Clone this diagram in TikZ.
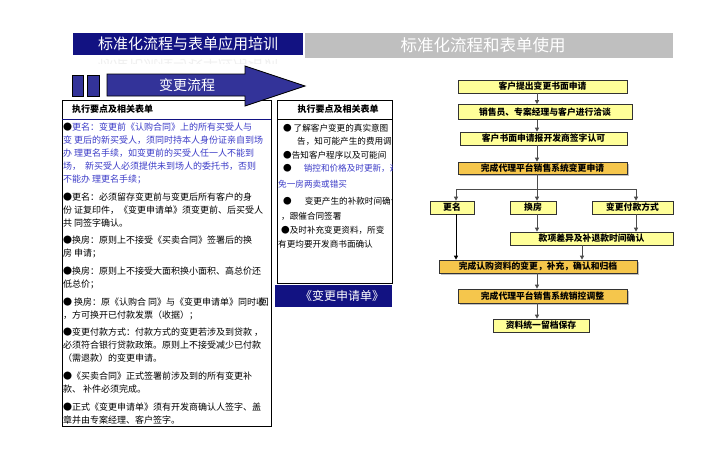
\documentclass[tikz,border=0pt]{standalone}
\usepackage{fontspec}
\setmainfont{Noto Sans CJK SC}
\usetikzlibrary{arrows.meta,shadows}

\definecolor{navy}{RGB}{18,18,130}
\definecolor{arrowblue}{RGB}{51,51,153}
\definecolor{titlegray}{RGB}{191,191,191}
\definecolor{noteblue}{RGB}{60,60,200}
\definecolor{paleyellow}{RGB}{255,255,153}
\definecolor{gold}{RGB}{245,198,76}

\begin{document}
\begin{tikzpicture}[
		x=1pt,y=-1pt,
		>={Triangle[length=4pt,width=4pt]},
		every node/.style={inner sep=0pt},
		flowbox/.style={
				draw=black!80,
				line width=0.7pt,
				fill=paleyellow,
				minimum height=13pt,
				font=\fontsize{8.8}{10}\selectfont\bfseries
			},
		keybox/.style={
				flowbox,
				fill=gold,
				drop shadow={shadow xshift=2pt,shadow yshift=-2pt,fill=black!40,opacity=0.6}
			},
		flowline/.style={draw=black!70,line width=0.8pt},
		para/.style={anchor=north west,align=left,font=\fontsize{9}{13}\selectfont},
		midpara/.style={anchor=north west,align=left,font=\fontsize{8.6}{13}\selectfont},
		headtext/.style={font=\fontsize{9}{9}\selectfont\bfseries}
	]

	\useasboundingbox (0,0) rectangle (720,450);
	\fill[white] (0,0) rectangle (720,450);

	% titles
	\fill[navy] (73,33) rectangle (303,55);
	\node[text=white,font=\fontsize{15}{15}\selectfont] (title) at (188,44)
	{标准化流程与表单应用培训};
	\begin{scope}
		\clip (73,55) rectangle (303,63);
		\node[text=black!6,font=\fontsize{15}{15}\selectfont,yscale=-1] (titlemirror) at (188,66)
		{标准化流程与表单应用培训};
	\end{scope}

	\fill[titlegray] (305,33) rectangle (673,58);
	\node[text=white,font=\fontsize{16.5}{16.5}\selectfont] (subtitle) at (483,45)
	{标准化流程和表单使用};

	% left panel
	\draw[line width=0.8pt] (62,100) rectangle (271,426);
	\node[headtext,anchor=west] (lhead) at (72,109) {执行要点及相关表单};
	\draw[navy,line width=0.6pt] (62,119) -- (271,119);

	\node[para,text=noteblue] (p1) at (63,122.5)
	{\textcolor{black}{●}更名：变更前《认购合同》上的所有买受人与\\
		变 更后的新买受人，须同时持本人身份证亲自到场\\
		办 理更名手续，如变更前的买受人任一人不能到\\
		场，\ \ 新买受人必须提供未到场人的委托书，否则\\
		不能办 理更名手续；};

	\node[para] (p2) at (63,192.2)
	{●更名：必须留存变更前与变更后所有客户的身\\
		份 证复印件，《变更申请单》须变更前、后买受人\\
		共 同签字确认。};

	\node[para] (p3) at (63,235.9)
	{●换房：原则上不接受《买卖合同》签署后的换\\
		房 申请；};

	\node[para] (p4) at (63,266.6)
	{●换房：原则上不接受大面积换小面积、高总价还\\
		低总价；};

	\node[para] (p5) at (63,297.3)
	{● 换房：原《认购合 同》与《变更申请单》同时收\kern-0.6em 回\\
		，方可换开已付款发票（收据）；};

	\node[para] (p6) at (63,328)
	{●变更付款方式：付款方式的变更若涉及到贷款 ，\\
		必须符合银行贷款政策。原则上不接受减少已付款\\
		（需退款）的变更申请。};

	\node[para] (p7) at (63,371.7)
	{●《买卖合同》正式签署前涉及到的所有变更补\\
		款、 补件必须完成。};

	\node[para] (p8) at (63,402.4)
	{●正式《变更申请单》须有开发商确认人签字、盖\\
		章并由专案经理、客户签字。};

	% middle panel
	\draw[line width=0.8pt] (277,100) rectangle (392,283);
	\node[headtext] (mhead) at (338,109) {执行要点及相关表单};
	\draw[line width=0.6pt] (277,119) -- (392,119);

	\begin{scope}
		\clip (277,100) rectangle (392,283);
		\node[midpara] (m1) at (283,123.7)
		{● 了解客户变更的真实意图\\
			\hspace*{14pt}告，知可能产生的费用调整};
		\node[midpara] (m2) at (283,150.7)
		{●告知客户程序以及可能间};
		\node[midpara] (m3) at (278,163.7)
		{\hspace*{5pt}●\hspace*{12pt}\textcolor{noteblue}{销控和价格及时更新，避}\\[3pt]
			\textcolor{noteblue}{免一房两卖或错买}};
		\node[midpara] (m4) at (281,196.7)
		{\hspace*{2pt}●\hspace*{13pt}变更产生的补款时间确认\\[2pt]
			，跟催合同签署};
		\node[midpara] (m5) at (278,225.7)
		{\hspace*{3pt}●及时补充变更资料，所变\\[1pt]
			有更均要开发商书面确认};
	\end{scope}

	\fill[navy] (275,285) rectangle (392,307);
	\node[text=white,font=\fontsize{12}{12}\selectfont] (formname) at (342,296)
	{《变更申请单》};

	% process arrow
	\filldraw[fill=arrowblue,draw=black,line width=0.8pt] (72,75) rectangle (83,96);
	\filldraw[fill=arrowblue,draw=black,line width=0.8pt] (87,75) rectangle (99,96);
	\filldraw[fill=arrowblue,draw=black,line width=0.8pt]
	(107,74) -- (245,74) -- (245,66) -- (305,86) -- (245,106) -- (245,96) -- (107,96) -- cycle;
	\node[text=white,font=\fontsize{14}{14}\selectfont] (flowname) at (187,85) {变更流程};

	% flow chart
	\node[flowbox,minimum width=169pt] (apply) at (542.5,86.5) {客户提出变更书面申请};
	\node[flowbox,minimum width=174pt,minimum height=15pt] (talk) at (545,112)
	{销售员、专案经理与客户进行洽谈};
	\node[flowbox,minimum width=167pt] (sign) at (543.5,138.5) {客户书面申请报开发商签字认可};
	\node[keybox,minimum width=169pt,minimum height=12pt] (sysapply) at (542.5,168)
	{完成代理平台销售系统变更申请};

	\node[flowbox,minimum width=44pt] (rename) at (452,207.5) {更名};
	\node[flowbox,minimum width=46pt] (swap) at (533,207.5) {换房};
	\node[flowbox,minimum width=81pt] (paymode) at (632.5,207.5) {变更付款方式};
	\node[flowbox,minimum width=163pt] (refund) at (591.5,238.5) {款项差异及补退款时间确认};

	\node[keybox,minimum width=198pt] (update) at (538,266.5)
	{完成认购资料的变更，补充，确认和归档};
	\node[keybox,minimum width=169pt,minimum height=14pt] (adjust) at (542.5,296)
	{完成代理平台销售系统销控调整};
	\node[flowbox,minimum width=96pt] (archive) at (541,325.5) {资料统一留档保存};

	\coordinate (axis) at (537,0);
	\coordinate (split) at (537,189);
	\coordinate (lx) at (456,189);
	\coordinate (rx) at (636,189);
	\coordinate (mx) at (582,0);

	\draw[flowline,->] (apply.south -| axis) -- (talk.north -| axis);
	\draw[flowline,->] (talk.south -| axis) -- (sign.north -| axis);
	\draw[flowline,->] (sign.south -| axis) -- (sysapply.north -| axis);

	\draw[flowline] (sysapply.south -| axis) -- (split);
	\draw[flowline] (lx) -- (rx);
	\draw[flowline,->] (lx) -- (lx |- rename.north);
	\draw[flowline,->] (split) -- (split |- swap.north);
	\draw[flowline,->] (rx) -- (rx |- paymode.north);

	\draw[flowline,->] (swap.south -| axis) -- (refund.north -| axis);
	\draw[flowline,->] (paymode.south -| rx) -- (refund.north -| rx);
	\draw[flowline,draw=black,->] (rename.south -| lx) -- (update.north -| lx);
	\draw[flowline,->] (refund.south -| mx) -- (update.north -| mx);

	\draw[flowline,->] (update.south -| axis) -- (adjust.north -| axis);
	\draw[flowline,->] (adjust.south -| axis) -- (archive.north -| axis);

\end{tikzpicture}
\end{document}
